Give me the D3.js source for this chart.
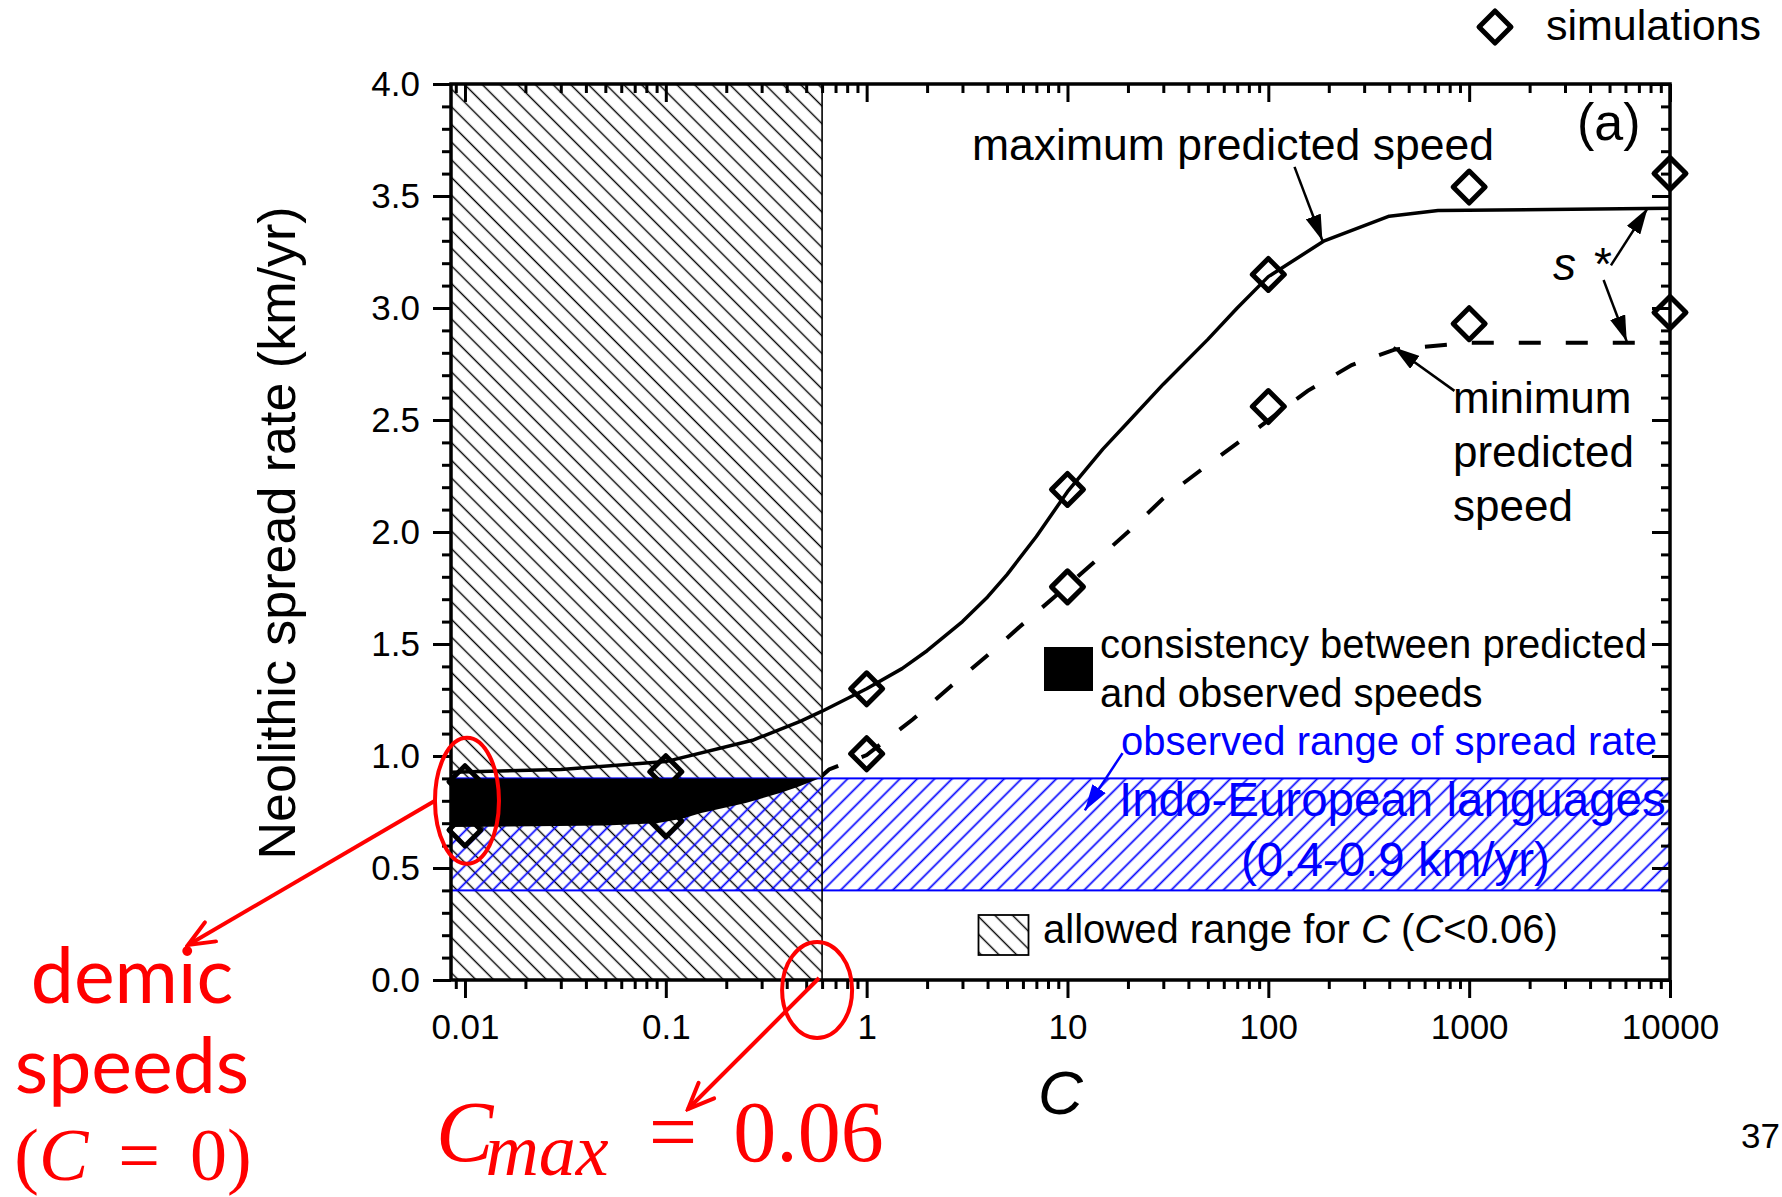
<!DOCTYPE html>
<html>
<head>
<meta charset="utf-8">
<script src="https://cdn.jsdelivr.net/npm/d3@7"></script>
<style>
  html, body { margin: 0; padding: 0; background: #fff; }
  svg { display: block; }
</style>
</head>
<body>
<svg id="chart" width="1782" height="1197" font-family="Liberation Sans, Arial, sans-serif"></svg>
<script>
// ---- data -------------------------------------------------------------
// Simulated spread rates (diamonds), upper and lower runs
const simC   = [0.01, 0.1, 1, 10, 100, 1000, 10000];
const simMax = [0.885, 0.93, 1.30, 2.19, 3.15, 3.54, 3.60];
const simMin = [0.67, 0.71, 1.01, 1.755, 2.56, 2.93, 2.98];

// Maximum predicted speed (solid curve)
const maxC     = [0.0085, 0.03, 0.1, 0.27, 0.47, 0.6, 1, 1.5, 2, 3, 4, 5, 7, 10, 15, 20, 30, 50, 70, 100, 190, 400, 700, 10000];
const maxSpeed = [0.927, 0.94, 0.975, 1.07, 1.156, 1.20, 1.30, 1.39, 1.47, 1.60, 1.71, 1.81, 1.98, 2.18, 2.37, 2.49, 2.66, 2.86, 3.00, 3.14, 3.30, 3.41, 3.435, 3.445];

// Minimum predicted speed (dashed curve; also the lower edge of the consistency region)
const minC     = [0.0085, 0.05, 0.09, 0.12, 0.15, 0.25, 0.37, 0.45, 0.58, 0.65, 1, 1.7, 2.6, 4, 5.8, 10, 15, 20, 30, 50, 86, 157, 260, 428, 1000, 10000];
const minSpeed = [0.683, 0.69, 0.70, 0.72, 0.745, 0.79, 0.835, 0.86, 0.90, 0.94, 1.004, 1.164, 1.308, 1.45, 1.578, 1.76, 1.90, 2.0, 2.15, 2.30, 2.455, 2.63, 2.745, 2.815, 2.845, 2.845];

// Observed range of spread rate for Indo-European languages (km/yr)
const observedRange = [0.4, 0.9];
// Upper bound of the allowed range of C on this axis
const cAllowed = 0.6;

// Axis ticks
const xTickValues = [0.01, 0.1, 1, 10, 100, 1000, 10000];
const xTickLabels = ["0.01", "0.1", "1", "10", "100", "1000", "10000"];
const yTickValues = [0, 0.5, 1, 1.5, 2, 2.5, 3, 3.5, 4];
const yTickLabels = ["0.0", "0.5", "1.0", "1.5", "2.0", "2.5", "3.0", "3.5", "4.0"];

// ---- layout -----------------------------------------------------------
const svg = d3.select("#chart");
const plot = { left: 451, right: 1670, top: 84, bottom: 980 };

const x = d3.scaleLog().domain([0.00852, 10000]).range([plot.left, plot.right]);
const y = d3.scaleLinear().domain([0, 4]).range([plot.bottom, plot.top]);

const xMinor = [];
[0.001, 0.01, 0.1, 1, 10, 100, 1000].forEach(dec => {
  for (let k = 2; k <= 9; k++) {
    const v = dec * k;
    if (v >= x.domain()[0] && v <= x.domain()[1]) xMinor.push(v);
  }
});
const yMinor = d3.range(1, 40).filter(i => i % 5 !== 0).map(i => i / 10);

// ---- defs: hatches, clips, arrowheads --------------------------------
const defs = svg.append("defs");

const hatchBlack = defs.append("pattern")
  .attr("id", "hatchBlack").attr("patternUnits", "userSpaceOnUse")
  .attr("width", 12.5).attr("height", 12.5)
  .attr("patternTransform", "rotate(-45)");
hatchBlack.append("rect").attr("width", 12.5).attr("height", 12.5).attr("fill", "#fff");
hatchBlack.append("line").attr("x1", 6.25).attr("x2", 6.25).attr("y1", 0).attr("y2", 12.5)
  .attr("stroke", "#000").attr("stroke-width", 1.4);

const hatchBlue = defs.append("pattern")
  .attr("id", "hatchBlue").attr("patternUnits", "userSpaceOnUse")
  .attr("width", 12.3).attr("height", 12.3)
  .attr("patternTransform", "rotate(45)");
hatchBlue.append("line").attr("x1", 6.15).attr("x2", 6.15).attr("y1", 0).attr("y2", 12.3)
  .attr("stroke", "#0000ff").attr("stroke-width", 1.7);

defs.append("clipPath").attr("id", "plotClip").append("rect")
  .attr("x", plot.left).attr("y", plot.top)
  .attr("width", plot.right - plot.left).attr("height", plot.bottom - plot.top);
defs.append("clipPath").attr("id", "rightOfAllowed").append("rect")
  .attr("x", x(cAllowed)).attr("y", plot.top)
  .attr("width", plot.right - x(cAllowed)).attr("height", plot.bottom - plot.top);

function solidHead(id, color) {
  defs.append("marker").attr("id", id)
    .attr("viewBox", "0 0 26 16").attr("refX", 26).attr("refY", 8)
    .attr("markerUnits", "userSpaceOnUse").attr("markerWidth", 26).attr("markerHeight", 16)
    .attr("orient", "auto")
    .append("path").attr("d", "M0,0 L26,8 L0,16 Z").attr("fill", color);
}
solidHead("headBlack", "#000");
solidHead("headBlue", "#0000ff");
defs.append("marker").attr("id", "headRed")
  .attr("viewBox", "0 0 32 26").attr("refX", 29).attr("refY", 13)
  .attr("markerUnits", "userSpaceOnUse").attr("markerWidth", 32).attr("markerHeight", 26)
  .attr("orient", "auto")
  .append("path").attr("d", "M3,2 L29,13 L3,24").attr("fill", "none")
  .attr("stroke", "#ff0000").attr("stroke-width", 4).attr("stroke-linecap", "round");

// ---- shaded regions ---------------------------------------------------
// allowed range for C
svg.append("rect")
  .attr("x", plot.left).attr("y", y(4))
  .attr("width", x(cAllowed) - plot.left).attr("height", y(0) - y(4))
  .attr("fill", "url(#hatchBlack)");

// observed Indo-European spread-rate band
svg.append("rect")
  .attr("x", plot.left).attr("y", y(observedRange[1]))
  .attr("width", plot.right - plot.left)
  .attr("height", y(observedRange[0]) - y(observedRange[1]))
  .attr("fill", "url(#hatchBlue)")
  .attr("stroke", "#0000ff").attr("stroke-width", 2);

svg.append("line")
  .attr("x1", x(cAllowed)).attr("x2", x(cAllowed))
  .attr("y1", y(4)).attr("y2", y(0))
  .attr("stroke", "#000").attr("stroke-width", 1.6);

// ---- curves -----------------------------------------------------------
const maxData = maxC.map((c, i) => [c, maxSpeed[i]]);
const minData = minC.map((c, i) => [c, minSpeed[i]]);
const line = d3.line().x(d => x(d[0])).y(d => y(d[1]));

svg.append("path").datum(maxData)
  .attr("clip-path", "url(#plotClip)")
  .attr("d", line).attr("fill", "none")
  .attr("stroke", "#000").attr("stroke-width", 3.5).attr("stroke-linejoin", "round");

svg.append("path").datum(minData)
  .attr("clip-path", "url(#rightOfAllowed)")
  .attr("d", line).attr("fill", "none")
  .attr("stroke", "#000").attr("stroke-width", 4)
  .attr("stroke-dasharray", "22,25");

// consistency between predicted and observed speeds
const consistency = d3.area()
  .x(d => x(d[0]))
  .y0(d => y(Math.min(d[1], observedRange[1])))
  .y1(() => y(observedRange[1]));
svg.append("path").datum(minData.filter(d => d[0] <= cAllowed))
  .attr("clip-path", "url(#plotClip)")
  .attr("d", consistency).attr("fill", "#000");

// ---- simulation diamonds ---------------------------------------------
const diamond = d3.symbol().type(d3.symbolSquare).size(512)();
function drawDiamond(g, cx, cy) {
  g.append("path").attr("d", diamond)
    .attr("transform", `translate(${cx},${cy}) rotate(45)`)
    .attr("fill", "none").attr("stroke", "#000")
    .attr("stroke-width", 5).attr("stroke-linejoin", "round");
}
const gSim = svg.append("g");
simC.forEach((c, i) => {
  drawDiamond(gSim, x(c), y(simMax[i]));
  drawDiamond(gSim, x(c), y(simMin[i]));
});

// ---- axes -------------------------------------------------------------
function styleAxis(g) {
  g.select(".domain").remove();
  g.selectAll(".tick line").attr("stroke", "#000").attr("stroke-width", 3);
  g.selectAll(".tick text").attr("fill", "#000");
  g.attr("font-family", "Liberation Sans, Arial, sans-serif").attr("font-size", 35);
}
svg.append("g").attr("transform", `translate(0,${plot.bottom})`)
  .call(d3.axisBottom(x).tickValues(xTickValues).tickFormat((d, i) => xTickLabels[i])
    .tickSize(18).tickPadding(16).tickSizeOuter(0)).call(styleAxis);
svg.append("g").attr("transform", `translate(0,${plot.bottom})`)
  .call(d3.axisBottom(x).tickValues(xMinor).tickFormat("").tickSize(9).tickSizeOuter(0)).call(styleAxis);
svg.append("g").attr("transform", `translate(0,${plot.top})`)
  .call(d3.axisBottom(x).tickValues(xTickValues).tickFormat("").tickSize(18).tickSizeOuter(0)).call(styleAxis);
svg.append("g").attr("transform", `translate(0,${plot.top})`)
  .call(d3.axisBottom(x).tickValues(xMinor).tickFormat("").tickSize(9).tickSizeOuter(0)).call(styleAxis);

svg.append("g").attr("transform", `translate(${plot.left},0)`)
  .call(d3.axisLeft(y).tickValues(yTickValues).tickFormat((d, i) => yTickLabels[i])
    .tickSize(18).tickPadding(13).tickSizeOuter(0)).call(styleAxis);
svg.append("g").attr("transform", `translate(${plot.left},0)`)
  .call(d3.axisLeft(y).tickValues(yMinor).tickFormat("").tickSize(9).tickSizeOuter(0)).call(styleAxis);
svg.append("g").attr("transform", `translate(${plot.right},0)`)
  .call(d3.axisLeft(y).tickValues(yTickValues).tickFormat("").tickSize(18).tickSizeOuter(0)).call(styleAxis);
svg.append("g").attr("transform", `translate(${plot.right},0)`)
  .call(d3.axisLeft(y).tickValues(yMinor).tickFormat("").tickSize(9).tickSizeOuter(0)).call(styleAxis);

svg.append("rect")
  .attr("x", plot.left).attr("y", plot.top)
  .attr("width", plot.right - plot.left).attr("height", plot.bottom - plot.top)
  .attr("fill", "none").attr("stroke", "#000").attr("stroke-width", 3.5);

// axis titles
svg.append("text")
  .attr("transform", `translate(295,${(plot.top + plot.bottom) / 2 + 1}) rotate(-90)`)
  .attr("text-anchor", "middle").attr("font-size", 52)
  .text("Neolithic spread rate (km/yr)");
svg.append("text")
  .attr("x", (plot.left + plot.right) / 2).attr("y", 1114)
  .attr("text-anchor", "middle").attr("font-size", 62).attr("font-style", "italic")
  .text("C");

// ---- annotations inside the plot -------------------------------------
function txt(xp, yp, s, size, opts = {}) {
  const t = svg.append("text").attr("x", xp).attr("y", yp).attr("font-size", size)
    .attr("fill", opts.fill || "#000");
  if (opts.anchor) t.attr("text-anchor", opts.anchor);
  t.text(s);
  return t;
}
function arrow(c0, v0, c1, v1, head, color) {
  svg.append("line")
    .attr("x1", x(c0)).attr("y1", y(v0)).attr("x2", x(c1)).attr("y2", y(v1))
    .attr("stroke", color).attr("stroke-width", 2.5)
    .attr("marker-end", `url(#${head})`);
}

txt(972, 160, "maximum predicted speed", 44.5);
arrow(135, 3.63, 186, 3.30, "headBlack", "#000");

txt(1577, 140, "(a)", 52);

const sStar = svg.append("text").attr("x", 1553).attr("y", 280).attr("font-size", 46);
sStar.append("tspan").attr("font-style", "italic").text("s");
sStar.append("tspan").attr("dx", 18).text("*");
arrow(5080, 3.19, 7730, 3.445, "headBlack", "#000");
arrow(4670, 3.125, 6095, 2.85, "headBlack", "#000");

txt(1453, 413, "minimum", 44);
txt(1453, 467, "predicted", 44);
txt(1453, 521, "speed", 44);
arrow(845, 2.63, 421, 2.825, "headBlack", "#000");

// legend: consistency square
svg.append("rect").attr("x", 1044).attr("y", 647).attr("width", 49).attr("height", 44).attr("fill", "#000");
txt(1100, 658, "consistency between predicted", 40);
txt(1100, 707, "and observed speeds", 40);

// observed range labels
txt(1121, 755, "observed range of spread rate", 40, { fill: "#0000ff" });
arrow(18.8, 1.013, 12.2, 0.757, "headBlue", "#0000ff");
txt(1119, 816, "Indo-European languages", 47.5, { fill: "#0000ff" });
txt(1241, 876, "(0.4-0.9 km/yr)", 47.5, { fill: "#0000ff" });

// legend: allowed range
svg.append("rect").attr("x", 978.5).attr("y", 915).attr("width", 50).attr("height", 40)
  .attr("fill", "url(#hatchBlack)").attr("stroke", "#000").attr("stroke-width", 1.8);
const allowed = svg.append("text").attr("x", 1043).attr("y", 943).attr("font-size", 40);
allowed.append("tspan").text("allowed range for ");
allowed.append("tspan").attr("font-style", "italic").text("C");
allowed.append("tspan").text(" (");
allowed.append("tspan").attr("font-style", "italic").text("C");
allowed.append("tspan").text("<0.06)");

// legend: simulations
drawDiamond(svg, 1495, 27);
txt(1546, 40, "simulations", 43);

// page number
txt(1780, 1148, "37", 35, { anchor: "end" });

// ---- red call-outs ----------------------------------------------------
const red = "#ff0000";
const e1 = { cx: x(0.01) + 2, cy: y(0.80), rx: 32, ry: 63 };
svg.append("ellipse").attr("cx", e1.cx).attr("cy", e1.cy).attr("rx", e1.rx).attr("ry", e1.ry)
  .attr("fill", "none").attr("stroke", red).attr("stroke-width", 4);
svg.append("line").attr("x1", e1.cx - e1.rx).attr("y1", e1.cy).attr("x2", 188).attr("y2", 945)
  .attr("stroke", red).attr("stroke-width", 4).attr("marker-end", "url(#headRed)");

const e2 = { cx: x(cAllowed) - 5, cy: y(0) + 10, rx: 35, ry: 48 };
svg.append("ellipse").attr("cx", e2.cx).attr("cy", e2.cy).attr("rx", e2.rx).attr("ry", e2.ry)
  .attr("fill", "none").attr("stroke", red).attr("stroke-width", 4);
svg.append("line").attr("x1", x(cAllowed) - 3).attr("y1", y(0) - 2).attr("x2", 688).attr("y2", 1109)
  .attr("stroke", red).attr("stroke-width", 4).attr("marker-end", "url(#headRed)");

const sans = "Lato, Open Sans, sans-serif";
const serif = "Liberation Serif, DejaVu Serif, serif";
svg.append("text").attr("x", 132).attr("y", 1003).attr("text-anchor", "middle")
  .attr("font-family", sans).attr("font-size", 77).attr("fill", red).text("demic");
svg.append("text").attr("x", 132).attr("y", 1093).attr("text-anchor", "middle")
  .attr("font-family", sans).attr("font-size", 77).attr("fill", red).text("speeds");

const c0 = svg.append("text").attr("x", 133).attr("y", 1180).attr("text-anchor", "middle")
  .attr("font-family", serif).attr("font-size", 74).attr("fill", red);
c0.append("tspan").text("(");
c0.append("tspan").attr("font-style", "italic").text("C");
c0.append("tspan").attr("dx", 30).text("=");
c0.append("tspan").attr("dx", 30).text("0");
c0.append("tspan").text(")");

const cm = svg.append("text").attr("x", 436).attr("y", 1161)
  .attr("font-family", serif).attr("font-size", 86).attr("fill", red);
cm.append("tspan").attr("font-style", "italic").text("C");
cm.append("tspan").attr("font-style", "italic").attr("font-size", 74).attr("dx", -8).attr("dy", 14).text("max");
cm.append("tspan").attr("dx", 40).attr("dy", -14).text("=");
cm.append("tspan").attr("dx", 36).text("0.06");
</script>
</body>
</html>
